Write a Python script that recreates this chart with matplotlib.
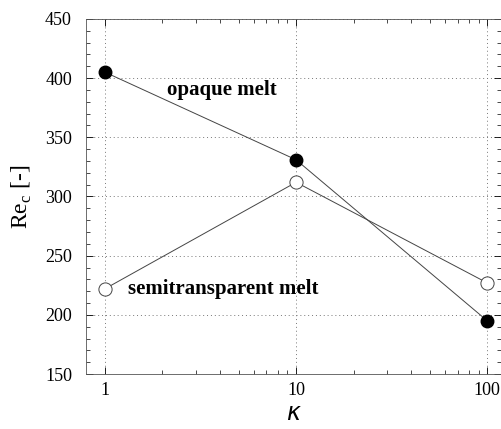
import numpy as np
import matplotlib.pyplot as plt
from matplotlib.ticker import MultipleLocator, FixedLocator, NullFormatter

kappa = [1, 10, 100]
re_opaque = [405, 331, 195]
re_semi = [222, 312, 227]

plt.rcParams['font.family'] = 'Liberation Serif'

fig = plt.figure(figsize=(5.02, 4.29), dpi=100)
ax = fig.add_axes([0.171, 0.128, 0.827, 0.828])

ax.plot(kappa, re_opaque, color='#444444', lw=0.7, marker='o', ms=9,
        mfc='black', mec='black', zorder=3)
ax.plot(kappa, re_semi, color='#444444', lw=0.7, marker='o', ms=9.5,
        mfc='white', mec='#444444', mew=0.7, zorder=3)

ax.set_xscale('log')
ax.set_xlim(0.795, 118)
ax.set_ylim(150, 450)
ax.set_xticks([1, 10, 100])
ax.set_xticklabels(['1', '10', '100'])
ax.xaxis.set_minor_locator(FixedLocator([d * m for d in [1, 10] for m in range(2, 10)]))
ax.xaxis.set_minor_formatter(NullFormatter())
ax.yaxis.set_major_locator(MultipleLocator(50))
ax.yaxis.set_minor_locator(MultipleLocator(10))

ax.tick_params(which='both', direction='in', top=True, right=True, labelsize=13)
ax.tick_params(axis='y', pad=10)
ax.tick_params(axis='x', pad=6)
ax.tick_params(which='major', length=5, width=0.6)
ax.tick_params(which='minor', length=3, width=0.5)
for s in ax.spines.values():
    s.set_linewidth(0.6)
    s.set_color('#555555')

ax.grid(True, which='major', linestyle=(0, (1, 3)), color='#777777', lw=0.7)

# curve labels
ax.text(2.11, 390, 'opaque melt', fontsize=15, fontweight='bold', va='center')
ax.text(1.32, 222, 'semitransparent melt', fontsize=15, fontweight='bold', va='center')

ax.set_ylabel(r'Re$_{\mathregular{c}}$ [-]', fontsize=17, labelpad=8)
ax.set_xlabel('κ', fontsize=17, family='DejaVu Sans', style='italic', labelpad=1)

fig.savefig('out.png', dpi=100)
